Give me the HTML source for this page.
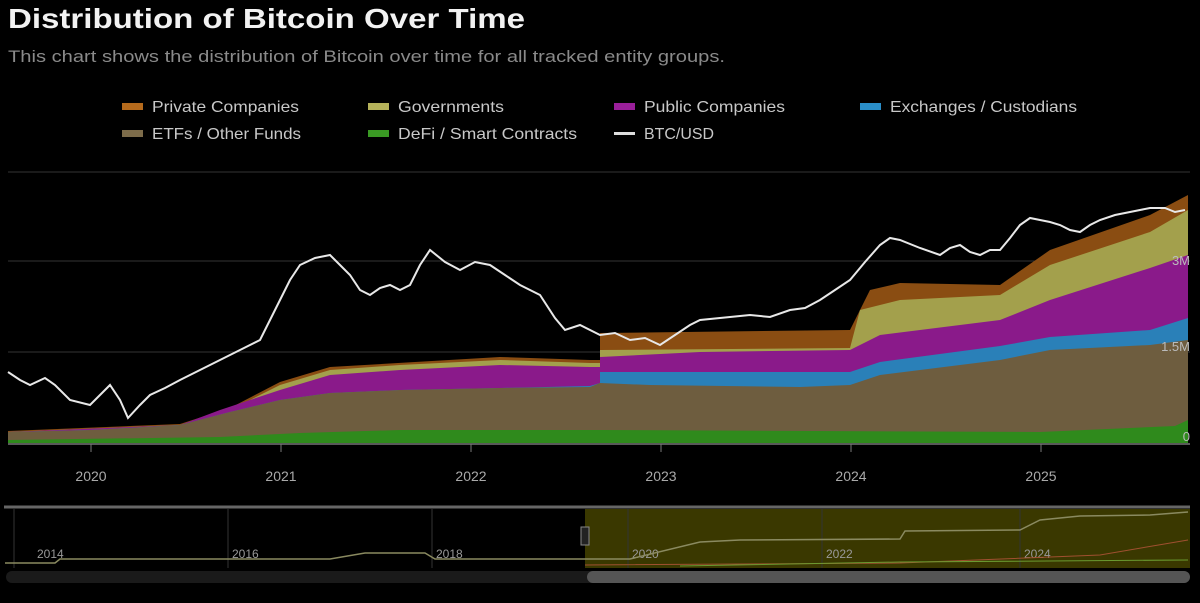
<!DOCTYPE html>
<html><head><meta charset="utf-8"><style>
body{margin:0;background:#000;width:1200px;height:598px;overflow:hidden;font-family:"Liberation Sans",sans-serif}
</style></head><body>
<svg width="1200" height="598" xmlns="http://www.w3.org/2000/svg" font-family="Liberation Sans, sans-serif">
<rect width="1200" height="598" fill="#000"/>
<text x="8" y="28" fill="#f2f2f2" font-size="28" font-weight="bold" textLength="517" lengthAdjust="spacingAndGlyphs">Distribution of Bitcoin Over Time</text>
<text x="8" y="62" fill="#8a8a8a" font-size="17" textLength="717" lengthAdjust="spacingAndGlyphs">This chart shows the distribution of Bitcoin over time for all tracked entity groups.</text>
<g font-size="16" fill="#c8c8c8" lengthAdjust="spacingAndGlyphs">
<rect x="122" y="103" width="21" height="7" fill="#b56a1c"/><text x="152" y="112" textLength="147" lengthAdjust="spacingAndGlyphs">Private Companies</text>
<rect x="368" y="103" width="21" height="7" fill="#b5b25a"/><text x="398" y="112" textLength="106" lengthAdjust="spacingAndGlyphs">Governments</text>
<rect x="614" y="103" width="21" height="7" fill="#9a1f9a"/><text x="644" y="112" textLength="141" lengthAdjust="spacingAndGlyphs">Public Companies</text>
<rect x="860" y="103" width="21" height="7" fill="#2a8ec8"/><text x="890" y="112" textLength="187" lengthAdjust="spacingAndGlyphs">Exchanges / Custodians</text>
<rect x="122" y="130" width="21" height="7" fill="#7d6c4a"/><text x="152" y="139" textLength="149" lengthAdjust="spacingAndGlyphs">ETFs / Other Funds</text>
<rect x="368" y="130" width="21" height="7" fill="#3a9a24"/><text x="398" y="139" textLength="179" lengthAdjust="spacingAndGlyphs">DeFi / Smart Contracts</text>
<rect x="614" y="132" width="21" height="3" fill="#ddd"/><text x="644" y="139" textLength="70" lengthAdjust="spacingAndGlyphs">BTC/USD</text>
</g>
<g stroke="#333" stroke-width="1">
<line x1="8" y1="172" x2="1190" y2="172"/><line x1="8" y1="261" x2="1190" y2="261"/><line x1="8" y1="352" x2="1190" y2="352"/>
</g>
<polygon fill="#8a4d12" points="8,443 8,431 180,424 230,408 280,382 330,367 500,357 590,360 600,360 600,333 850,330 870,290 900,283 1000,285 1050,250 1150,215 1188,195 1188,443"/>
<polygon fill="#a3a04c" points="8,443 8,432 180,425 230,410 280,385 330,370 400,365 500,360 590,363 600,363 600,350 850,348 860,310 900,300 1000,295 1050,265 1150,232 1188,210 1188,443"/>
<polygon fill="#8a1a8a" points="8,443 8,432 180,425 220,410 280,390 330,375 400,370 500,365 590,367 600,367 600,357 700,352 850,350 880,335 1000,320 1050,300 1150,268 1188,255 1188,443"/>
<polygon fill="#2a80b8" points="8,443 8,432 90,430 180,425 230,412 280,400 330,393 400,390 500,388 590,386 600,383 600,372 700,372 850,372 880,362 1000,346 1050,337 1150,330 1188,318 1188,443"/>
<polygon fill="#6e5d3f" points="8,443 8,432 90,430 180,425 230,412 280,400 330,393 400,390 500,388 590,387 600,383 650,385 800,387 850,385 880,375 1000,360 1050,350 1150,345 1188,340 1188,443"/>
<polygon fill="#2f8a1c" points="8,443 8,440 220,437 300,433 400,430 600,430 1040,432 1175,426 1188,420 1188,443"/>
<polyline fill="none" stroke="#e8e8e8" stroke-width="2" points="8,372 20,380 30,385 45,378 55,385 70,400 90,405 100,395 110,385 120,400 128,418 140,405 150,395 165,388 180,380 200,370 220,360 240,350 260,340 270,320 280,300 290,280 300,265 315,258 330,255 340,265 350,275 360,290 370,295 380,288 390,285 400,290 410,285 420,265 430,250 445,262 460,270 475,262 490,265 505,275 520,285 530,290 540,295 555,318 565,330 580,325 600,335 615,333 630,340 645,338 660,345 675,335 690,325 700,320 720,318 750,315 770,317 790,310 805,308 820,300 835,290 850,280 865,262 880,245 890,238 900,240 920,248 940,255 950,248 960,245 970,252 980,255 990,250 1000,250 1010,238 1020,225 1030,218 1040,220 1050,222 1060,225 1070,230 1080,232 1090,225 1100,220 1115,215 1130,212 1140,210 1150,208 1165,208 1175,212 1185,210"/>
<line x1="8" y1="444" x2="1190" y2="444" stroke="#777" stroke-width="1.5"/>
<g stroke="#777"><line x1="91" y1="444" x2="91" y2="452"/><line x1="281" y1="444" x2="281" y2="452"/><line x1="471" y1="444" x2="471" y2="452"/><line x1="661" y1="444" x2="661" y2="452"/><line x1="851" y1="444" x2="851" y2="452"/><line x1="1041" y1="444" x2="1041" y2="452"/></g>
<g font-size="14" fill="#aaa" text-anchor="middle">
<text x="91" y="481">2020</text><text x="281" y="481">2021</text><text x="471" y="481">2022</text><text x="661" y="481">2023</text><text x="851" y="481">2024</text><text x="1041" y="481">2025</text>
</g>
<g font-size="13" fill="#bbb" text-anchor="end"><text x="1190" y="265">3M</text><text x="1190" y="351">1.5M</text><text x="1190" y="441">0</text></g>
<line x1="4" y1="507" x2="1190" y2="507" stroke="#666" stroke-width="3"/>
<rect x="585" y="509" width="605" height="59" fill="#3a3800"/>
<g stroke="#333"><line x1="14" y1="509" x2="14" y2="568"/><line x1="228" y1="509" x2="228" y2="568"/><line x1="432" y1="509" x2="432" y2="568"/><line x1="628" y1="509" x2="628" y2="568"/><line x1="822" y1="509" x2="822" y2="568"/><line x1="1020" y1="509" x2="1020" y2="568"/></g>
<g font-size="12" fill="#999"><text x="37" y="558">2014</text><text x="232" y="558">2016</text><text x="436" y="558">2018</text><text x="632" y="558">2020</text><text x="826" y="558">2022</text><text x="1024" y="558">2024</text></g>
<polyline fill="none" stroke="#8a8a60" stroke-width="1.5" points="5,563 55,563 60,559 230,559 330,559 365,553 425,553 435,559 585,559 630,559 700,542 740,540 900,539 905,531 1020,530 1040,520 1080,516 1150,515 1188,512"/>
<polyline fill="none" stroke="#a05030" stroke-width="1" points="585,565 900,563 1100,555 1188,540"/>
<polyline fill="none" stroke="#6a9a30" stroke-width="1" points="680,566 900,562 1188,560"/>
<rect x="581" y="527" width="8" height="18" fill="#222" stroke="#888"/>
<rect x="6" y="571" width="1184" height="12" rx="6" fill="#1a1a1a"/>
<rect x="587" y="571" width="603" height="12" rx="6" fill="#555"/>
</svg>
</body></html>
